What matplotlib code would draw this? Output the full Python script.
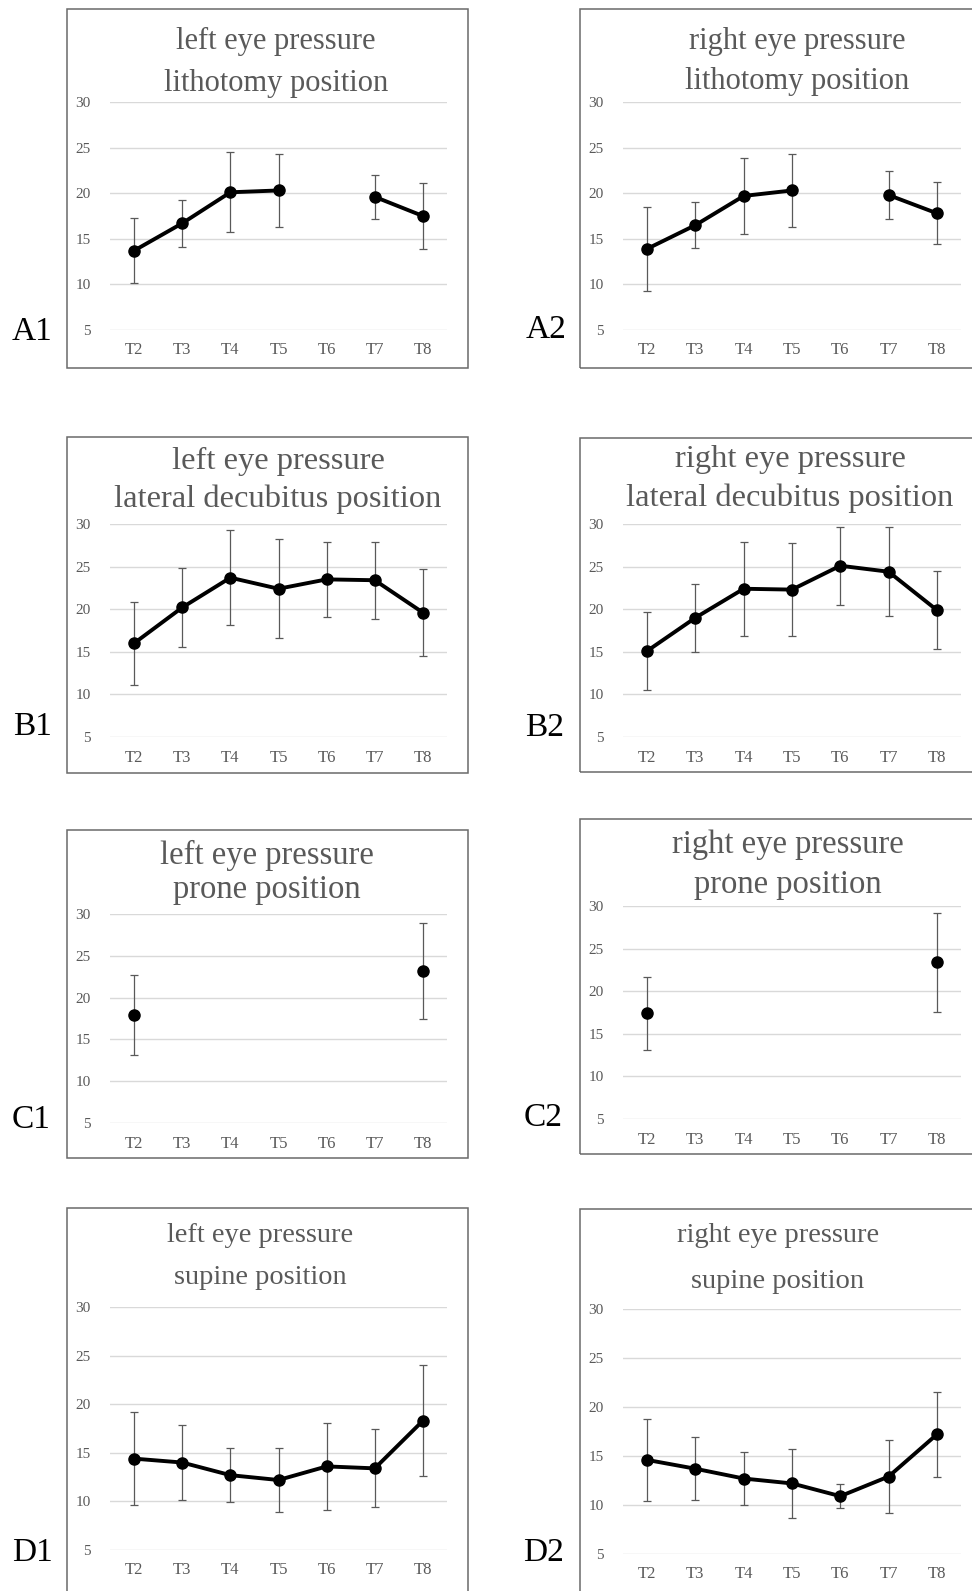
import numpy as np
import matplotlib.pyplot as plt
from matplotlib.patches import Rectangle

W, H = 972, 1591
nan = np.nan

times = ["T2", "T3", "T4", "T5", "T6", "T7", "T8"]
yticks = [5, 10, 15, 20, 25, 30]

panel_labels = ["A1", "A2", "B1", "B2", "C1", "C2", "D1", "D2"]
titles = [
    ("left eye pressure", "lithotomy position"),
    ("right eye pressure", "lithotomy position"),
    ("left eye pressure", "lateral decubitus position"),
    ("right eye pressure", "lateral decubitus position"),
    ("left eye pressure", "prone position"),
    ("right eye pressure", "prone position"),
    ("left eye pressure", "supine position"),
    ("right eye pressure", "supine position"),
]

# mean and sd of eye pressure at each time point
a1_mean = [13.7, 16.7, 20.1, 20.3, nan, 19.6, 17.5]
a1_sd = [3.6, 2.6, 4.4, 4.0, nan, 2.4, 3.6]
a2_mean = [13.9, 16.5, 19.7, 20.3, nan, 19.8, 17.8]
a2_sd = [4.6, 2.5, 4.2, 4.0, nan, 2.6, 3.4]
b1_mean = [16.0, 20.2, 23.7, 22.4, 23.5, 23.4, 19.6]
b1_sd = [4.9, 4.6, 5.6, 5.8, 4.4, 4.5, 5.1]
b2_mean = [15.1, 19.0, 22.4, 22.3, 25.1, 24.4, 19.9]
b2_sd = [4.6, 4.0, 5.5, 5.5, 4.6, 5.2, 4.6]
c1_mean = [17.9, nan, nan, nan, nan, nan, 23.2]
c1_sd = [4.8, nan, nan, nan, nan, nan, 5.7]
c2_mean = [17.4, nan, nan, nan, nan, nan, 23.4]
c2_sd = [4.3, nan, nan, nan, nan, nan, 5.8]
d1_mean = [14.4, 14.0, 12.7, 12.2, 13.6, 13.4, 18.3]
d1_sd = [4.8, 3.9, 2.8, 3.3, 4.5, 4.0, 5.7]
d2_mean = [14.6, 13.7, 12.7, 12.2, 10.9, 12.9, 17.2]
d2_sd = [4.2, 3.2, 2.7, 3.5, 1.2, 3.7, 4.3]

means = [a1_mean, a2_mean, b1_mean, b2_mean, c1_mean, c2_mean, d1_mean, d2_mean]
sds = [a1_sd, a2_sd, b1_sd, b2_sd, c1_sd, c2_sd, d1_sd, d2_sd]

# layout in pixels: plot area (x0, x1, ytop, ybottom), frame box, title line ys, title x, title size, label pos
plot_px = [(110, 447, 102, 330), (623, 961, 102, 330),
           (110, 447, 524, 737), (623, 961, 524, 737),
           (110, 447, 914, 1123), (623, 961, 906, 1119),
           (110, 447, 1307, 1550), (623, 961, 1309, 1554)]
box_px = [(67, 9, 468, 368), (580, 9, 990, 368),
          (67, 437, 468, 773), (580, 438, 990, 772),
          (67, 830, 468, 1158), (580, 819, 990, 1154),
          (67, 1208, 468, 1600), (580, 1209, 990, 1600)]
title_y = [(41, 83), (41, 81), (461, 499), (460, 498),
           (855, 890), (845, 885), (1236, 1278), (1236, 1281)]
title_x = [276, 797, 278, 790, 267, 788, 260, 778]
title_size = [22, 22, 23.4, 23.4, 23.5, 23.5, 20.4, 20.5]
label_xy = [(32, 332), (546, 330), (33, 727), (545, 728),
            (31, 1120), (543, 1118), (32, 1553), (543, 1553)]

serif = ["Liberation Serif", "DejaVu Serif"]
grey = "#595959"

fig = plt.figure(figsize=(W / 100, H / 100), dpi=100)

for i in range(8):
    bx0, by0, bx1, by1 = box_px[i]
    fig.add_artist(Rectangle((bx0 / W, 1 - by1 / H), (bx1 - bx0) / W, (by1 - by0) / H,
                             transform=fig.transFigure, fill=False,
                             edgecolor="#6a6a6a", lw=1.1))

    x0, x1, yt, yb = plot_px[i]
    ax = fig.add_axes([x0 / W, 1 - yb / H, (x1 - x0) / W, (yb - yt) / H])
    x = np.arange(len(times))
    m = np.array(means[i])
    s = np.array(sds[i])
    ax.errorbar(x, m, yerr=s, fmt="none", ecolor=grey, elinewidth=0.9,
                capsize=2.9, capthick=0.9, zorder=2)
    ax.plot(x, m, color="black", lw=2.8, marker="o", markersize=8, zorder=3)
    ax.set_xlim(-0.5, len(times) - 0.5)
    ax.set_ylim(5, 30)
    ax.set_yticks(yticks)
    ax.set_xticks(x)
    ax.set_xticklabels(times)
    ax.yaxis.grid(True, color="#d9d9d9", lw=1.0)
    ax.set_axisbelow(True)
    for sp in ax.spines.values():
        sp.set_visible(False)
    ax.tick_params(length=0, colors=grey)
    ax.tick_params(axis="y", pad=14)
    ax.tick_params(axis="x", pad=9)
    for lab in ax.get_yticklabels():
        lab.set_family(serif)
        lab.set_fontsize(11)
    for lab in ax.get_xticklabels():
        lab.set_family(serif)
        lab.set_fontsize(12)

    for line, ty in zip(titles[i], title_y[i]):
        fig.text(title_x[i] / W, 1 - ty / H, line, ha="center", va="center",
                 family=serif, fontsize=title_size[i], color=grey)
    lx, ly = label_xy[i]
    fig.text(lx / W, 1 - ly / H, panel_labels[i], ha="center", va="center",
             family=serif, fontsize=24, color="black")

fig.savefig("out.png", dpi=100)
